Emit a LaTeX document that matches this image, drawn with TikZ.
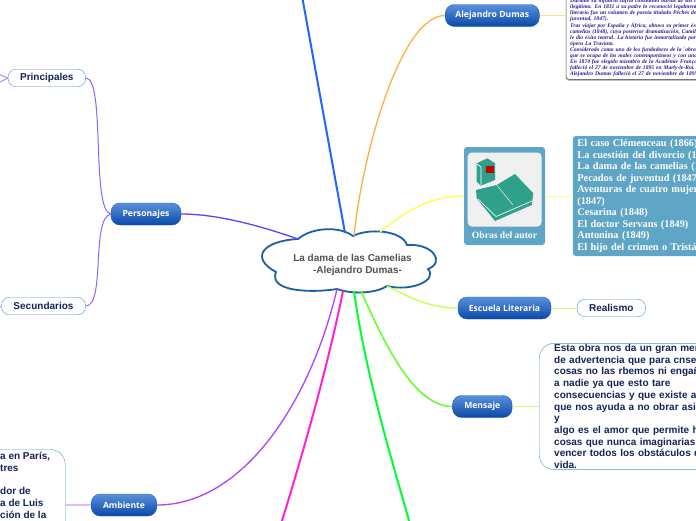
\documentclass[tikz,border=0pt]{standalone}
\usepackage{fontspec}
\setmainfont{Liberation Sans}
\newfontfamily\pillfont{Open Sans}
\newfontfamily\serifface{Liberation Serif}
\usetikzlibrary{shadows}
\definecolor{pilltop}{HTML}{5A90DC}
\definecolor{pillbot}{HTML}{0A48A8}
\definecolor{pillline}{HTML}{1C5CC4}
\definecolor{boxline}{HTML}{4C96D2}
\definecolor{boxtext}{HTML}{14245A}
\definecolor{cloudline}{HTML}{1A5FA8}
\definecolor{obrasblue}{HTML}{5FA6C6}
\definecolor{bookteal}{HTML}{2FA08A}
\definecolor{dumasink}{HTML}{2A1A9A}

\tikzset{
  pill/.style={rounded corners=9pt, draw=pillline, top color=pilltop, bottom color=pillbot,
    minimum height=22pt, inner sep=0pt, text=white, font=\pillfont\bfseries\fontsize{8.6}{10}\selectfont},
  leaf/.style={rounded corners=8pt, draw=boxline, fill=white, minimum height=17.5pt, inner sep=0pt,
    text=boxtext, font=\bfseries\fontsize{10}{12}\selectfont},
  textbox/.style={rounded corners=15pt, draw=boxline, fill=white, align=left, anchor=west,
    text=boxtext, font=\bfseries\fontsize{10}{11.7}\selectfont},
  link/.style={line width=1.3pt},
  thinlink/.style={line width=1pt}
}

\begin{document}
\begin{tikzpicture}[x=1pt, y=-1pt]
  \useasboundingbox (0,0) rectangle (696,520);
  \clip (0,0) rectangle (696,520);
  \fill[white] (0,0) rectangle (696,520);

  % Central cloud
  \coordinate (cA) at (353,236);
  \coordinate (cB) at (407,245);
  \coordinate (cC) at (428,269);
  \coordinate (cD) at (387,286);
  \coordinate (cE) at (337,289);
  \coordinate (cF) at (276,272);
  \coordinate (cG) at (298,239);
  \draw[line width=1.8pt, draw=cloudline, fill=white] (cA)
    .. controls (368,228) and (402,230) .. (cB)
    .. controls (432,243) and (446,262) .. (cC)
    .. controls (438,280) and (412,292) .. (cD)
    .. controls (375,294) and (350,294) .. (cE)
    .. controls (312,293) and (268,292) .. (cF)
    .. controls (250,258) and (262,241) .. (cG)
    .. controls (312,227) and (340,226) .. cycle;
  \node[inner sep=0pt, align=center, text=black!68, font=\bfseries\fontsize{10}{12.5}\selectfont] (cloud) at (352.5,265)
    {La dama de las Camelias\\\hspace*{10pt}-Alejandro Dumas-};

  % Coordinates on the cloud and free ends
  \coordinate (cBlue) at (345,233);
  \coordinate (cOrange) at (354,236);
  \coordinate (cYellow) at (380,232);
  \coordinate (cLime) at (361,291);
  \coordinate (cGreen) at (354,291);
  \coordinate (cPink) at (343,291);
  \coordinate (cPurple) at (337,289);
  \coordinate (cIndigo) at (298,239);
  \coordinate (topend) at (302,-4);
  \coordinate (greenend) at (410,524);
  \coordinate (pinkend) at (281,524);
  \coordinate (leftupA) at (-2,74);
  \coordinate (leftupB) at (-2,83);
  \coordinate (leftdown) at (-2,306);

  % Blue branch nodes
  \node[pill, minimum width=94pt] (aleja) at (492.3,15.5) {Alejandro Dumas};
  \node[pill, minimum width=70pt] (personajes) at (146,214) {Personajes};
  \node[pill, minimum width=93pt] (escuela) at (504.5,308) {Escuela Literaria};
  \node[pill, minimum width=59.5pt] (mensaje) at (482.3,406.5) {Mensaje};
  \node[pill, minimum width=65.5pt] (ambiente) at (124,505) {Ambiente};

  % Leaves
  \node[leaf, minimum width=77.5pt] (principales) at (46.8,78) {Principales};
  \node[leaf, minimum width=84pt] (secundarios) at (43.5,306) {Secundarios};
  \node[leaf, minimum width=68.5pt] (realismo) at (611.3,308) {Realismo};

  % Text boxes
  \node[textbox, text width=150pt, minimum height=121pt, inner xsep=15pt, inner ysep=1pt] (msgbox) at (539,406.5)
    {Esta obra nos da un gran men\\
     de advertencia que para cnseg\\
     cosas no las rbemos ni engañ\\
     a nadie ya que esto tare\\
     consecuencias y que existe al\\
     que nos ayuda a no obrar asi y\\
     algo es el amor que permite h\\
     cosas que nunca imaginarias\\
     vencer todos los obstáculos d\\
     vida.};
  \node[textbox, minimum width=165pt, minimum height=120pt, inner sep=0pt] (ambbox) at (-100,509.5) {};
  \node[anchor=north west, inner sep=0pt, align=left, text=boxtext, font=\bfseries\fontsize{10}{11.7}\selectfont] (ambtxt) at (0,452)
    {a en París,\\
     tres\\
     \\
     dor de\\
     a de Luis\\
     ción de la};

  % Dumas biography
  \node[anchor=south west, draw=black!75, fill=white, rounded corners=3pt, inner xsep=4pt, inner ysep=3pt,
    text width=250pt, align=left, text=dumasink, drop shadow={shadow xshift=-0.5pt, shadow yshift=-1.5pt, opacity=0.5},
    font=\serifface\bfseries\itshape\fontsize{5.6}{5.95}\selectfont] (dumas) at (566,79.5)
    {Durante su infancia sufrió constantes burlas de sus compañeros por ser\\
     ilegítimo. En 1831 a su padre lo reconoció legalmente.Su primer trabajo\\
     literario fue un volumen de poesía titulado Péchés de jeunesse\\
     juventud, 1847).\\
     Tras viajar por España y África, obtuvo su primer éxito con La dama de las\\
     camelias (1848), cuya posterior dramatización, Camille,\\
     le dio éxito teatral. La historia fue inmortalizada por Giuseppe Verdi en la\\
     ópera La Traviata.\\
     Considerado como uno de los fundadores de la `obra de tesis'\\
     que se ocupa de los males contemporáneos y con una fu\\
     En 1874 fue elegido miembro de la Académie Française\\
     falleció el 27 de noviembre de 1895 en Marly-le-Roi.\\
     Alejandro Dumas falleció el 27 de noviembre de 1895 en};

  % Obras del autor
  \node[fill=obrasblue, rounded corners=3pt, minimum width=81pt, minimum height=98pt, inner sep=0pt] (obras) at (504.5,196) {};
  \fill[black!6, rounded corners=4pt] (467.7,152.5) rectangle (541.5,226.5);
  \node[inner sep=0pt, text=white, font=\serifface\bfseries\fontsize{9.6}{11}\selectfont] (obrascap) at (504.5,235) {Obras del autor};
  \node[fill=obrasblue, rounded corners=3pt, anchor=west, minimum height=120pt, inner xsep=4.5pt, inner ysep=1pt,
    text width=200pt, align=left, text=white, font=\serifface\bfseries\fontsize{10.3}{11.5}\selectfont] (lista) at (572.7,196)
    {El caso Clémenceau (1866)\\
     La cuestión del divorcio (18\\
     La dama de las camelias (18\\
     Pecados de juventud (1847)\\
     Aventuras de cuatro mujere\\
     (1847)\\
     Cesarina (1848)\\
     El doctor Servans (1849)\\
     Antonina (1849)\\
     El hijo del crimen o Tristán};

  % Books
  \fill[bookteal] (476.7,163.3) -- (487.3,158.3) -- (495,163.3) -- (495,180) -- (480.7,185.7) -- (476.7,181.7) -- cycle;
  \draw[white, line width=0.7pt] (477,164) -- (481,167) -- (481,185);
  \fill[red!75!black] (486,166) rectangle (494,172.7);
  \fill[bookteal] (476,190) -- (496.7,185) -- (515,174) -- (533.3,193.3) -- (531.7,205) -- (495,221) -- (476.7,198.3) -- cycle;
  \draw[black!6, line width=0.5pt] (496.7,185) -- (513,205);
  \draw[black!6, line width=0.7pt] (478,199) -- (496,216.5) -- (532,201);

  % Connectors from the cloud
  \draw[line width=2pt, draw={rgb,255:red,34;green,102;blue,255}] (cBlue) -- (topend);
  \draw[link, draw={rgb,255:red,255;green,176;blue,64}] (cOrange) .. controls +(8,-80) and +(-45,0) .. (aleja.west);
  \draw[link, draw={rgb,255:red,106;green,60;blue,255}] (cIndigo) .. controls +(-40,-14) and +(35,0) .. (personajes.east);
  \draw[link, draw={rgb,255:red,255;green,255;blue,64}] (cYellow) .. controls +(25,-20) and +(-35,0) .. (obras.west);
  \draw[link, draw={rgb,255:red,200;green,255;blue,64}] (cD) .. controls +(24,12) and +(-28,0) .. (escuela.west);
  \draw[line width=1.6pt, draw={rgb,255:red,102;green,255;blue,51}] (cLime) .. controls +(24,54) and +(-38,0) .. (mensaje.west);
  \draw[line width=2pt, draw={rgb,255:red,0;green,255;blue,51}] (cGreen) .. controls +(11,80) and +(-20,-70) .. (greenend);
  \draw[line width=2pt, draw={rgb,255:red,255;green,34;blue,221}] (cPink) .. controls +(-12,60) and +(28,-90) .. (pinkend);
  \draw[link, draw={rgb,255:red,170;green,68;blue,255}] (cPurple) .. controls +(-27,115) and +(85,0) .. (ambiente.east);

  % Connectors to the leaves
  \draw[line width=1.5pt, draw={rgb,255:red,255;green,218;blue,150}] (aleja.east) -- (aleja.east -| dumas.west);
  \draw[thinlink, draw={rgb,255:red,255;green,255;blue,120}] (obras.east) -- (lista.west);
  \draw[thinlink, draw={rgb,255:red,208;green,255;blue,112}] (escuela.east) -- (realismo.west);
  \draw[line width=1.2pt, draw={rgb,255:red,204;green,255;blue,102}] (mensaje.east) -- (msgbox.west);
  \draw[line width=1.6pt, draw={rgb,255:red,221;green,187;blue,255}] (ambiente.west) -- (ambiente.west -| ambbox.east);
  \draw[thinlink, draw={rgb,255:red,136;green,102;blue,255}] (personajes.west) .. controls +(-20,-4) and +(20,0) .. (principales.east);
  \draw[thinlink, draw={rgb,255:red,136;green,102;blue,255}] (personajes.west) .. controls +(-20,4) and +(20,0) .. (secundarios.east);
  \draw[thinlink, draw={rgb,255:red,170;green,140;blue,255}] (principales.west) -- (leftupA);
  \draw[thinlink, draw={rgb,255:red,170;green,140;blue,255}] (principales.west) -- (leftupB);
  \draw[thinlink, draw={rgb,255:red,170;green,140;blue,255}] (secundarios.west) -- (leftdown);
\end{tikzpicture}
\end{document}
